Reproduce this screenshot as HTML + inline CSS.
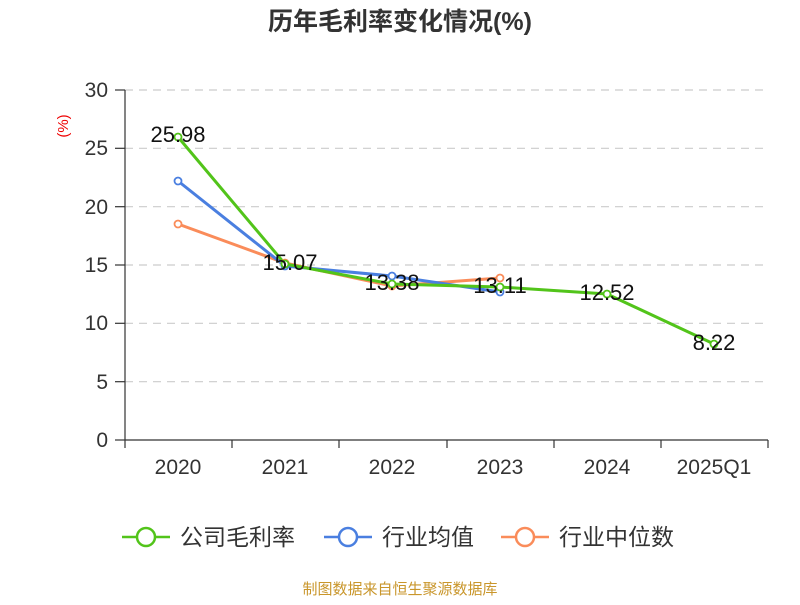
<!DOCTYPE html>
<html><head><meta charset="utf-8"><style>
body{margin:0;background:#fff;width:800px;height:600px;overflow:hidden}
text{font-family:"Liberation Sans","Noto Sans CJK SC",sans-serif}
</style></head><body>
<svg width="800" height="600" xmlns="http://www.w3.org/2000/svg">
<text x="400" y="30" text-anchor="middle" font-size="25" font-weight="bold" fill="#333">历年毛利率变化情况(%)</text>
<text x="68" y="126" font-size="15" fill="#e00" transform="rotate(-90 68 126)" text-anchor="middle">(%)</text>
<g stroke="#ccc" stroke-dasharray="8,6" stroke-width="1.2">
<line x1="125" x2="768" y1="90" y2="90"/><line x1="125" x2="768" y1="148.3" y2="148.3"/>
<line x1="125" x2="768" y1="206.7" y2="206.7"/><line x1="125" x2="768" y1="265" y2="265"/>
<line x1="125" x2="768" y1="323.3" y2="323.3"/><line x1="125" x2="768" y1="381.7" y2="381.7"/>
</g>
<g stroke="#333" stroke-width="1.2">
<line x1="125" x2="125" y1="90" y2="440"/><line x1="125" x2="768" y1="440" y2="440"/>
<line x1="115" x2="125" y1="90" y2="90"/><line x1="115" x2="125" y1="148.3" y2="148.3"/><line x1="115" x2="125" y1="206.7" y2="206.7"/><line x1="115" x2="125" y1="265" y2="265"/><line x1="115" x2="125" y1="323.3" y2="323.3"/><line x1="115" x2="125" y1="381.7" y2="381.7"/><line x1="115" x2="125" y1="440" y2="440"/>
<line x1="125" x2="125" y1="440" y2="448"/><line x1="232" x2="232" y1="440" y2="448"/><line x1="339" x2="339" y1="440" y2="448"/><line x1="447" x2="447" y1="440" y2="448"/><line x1="554" x2="554" y1="440" y2="448"/><line x1="661" x2="661" y1="440" y2="448"/><line x1="768" x2="768" y1="440" y2="448"/>
</g>
<g font-size="21" fill="#333" text-anchor="end">
<text x="108" y="97">30</text><text x="108" y="155">25</text><text x="108" y="214">20</text><text x="108" y="272">15</text><text x="108" y="330">10</text><text x="108" y="389">5</text><text x="108" y="447">0</text>
</g>
<g font-size="21" fill="#333" text-anchor="middle">
<text x="178" y="474">2020</text><text x="285" y="474">2021</text><text x="392" y="474">2022</text><text x="500" y="474">2023</text><text x="607" y="474">2024</text><text x="714" y="474">2025Q1</text>
</g>
<g fill="none" stroke-width="3">
<polyline stroke="#fa8c5a" points="178,224 285,263 392,286 500,278"/>
<polyline stroke="#4a7fe0" points="178,181 285,266 392,276 500,292"/>
<polyline stroke="#52c41a" points="178,137 285,264 392,284 500,287 607,294 714,344"/>
</g>
<g fill="#fff" stroke-width="1.8">
<g stroke="#fa8c5a"><circle cx="178" cy="224" r="3.5"/><circle cx="285" cy="263" r="3.5"/><circle cx="392" cy="286" r="3.5"/><circle cx="500" cy="278" r="3.5"/></g>
<g stroke="#4a7fe0"><circle cx="178" cy="181" r="3.5"/><circle cx="285" cy="266" r="3.5"/><circle cx="392" cy="276" r="3.5"/><circle cx="500" cy="292" r="3.5"/></g>
<g stroke="#52c41a"><circle cx="178" cy="137" r="3.5"/><circle cx="285" cy="264" r="3.5"/><circle cx="392" cy="284" r="3.5"/><circle cx="500" cy="287" r="3.5"/><circle cx="607" cy="294" r="3.5"/><circle cx="714" cy="344" r="3.5"/></g>
</g>
<g font-size="22" fill="#111" text-anchor="middle">
<text x="178" y="142">25.98</text><text x="290" y="270">15.07</text><text x="392" y="290">13.38</text><text x="500" y="293">13.11</text><text x="607" y="300">12.52</text><text x="714" y="350">8.22</text>
</g>
<g stroke-width="2.5" fill="#fff">
<line x1="122" x2="170" y1="537" y2="537" stroke="#52c41a"/><circle cx="146" cy="537" r="9" stroke="#52c41a"/>
<line x1="324" x2="372" y1="537" y2="537" stroke="#4a7fe0"/><circle cx="348" cy="537" r="9" stroke="#4a7fe0"/>
<line x1="501" x2="549" y1="537" y2="537" stroke="#fa8c5a"/><circle cx="525" cy="537" r="9" stroke="#fa8c5a"/>
</g>
<g font-size="23" fill="#333">
<text x="180" y="545">公司毛利率</text><text x="382" y="545">行业均值</text><text x="559" y="545">行业中位数</text>
</g>
<text x="400" y="594" text-anchor="middle" font-size="15" fill="#c9962b">制图数据来自恒生聚源数据库</text>
</svg>
</body></html>
